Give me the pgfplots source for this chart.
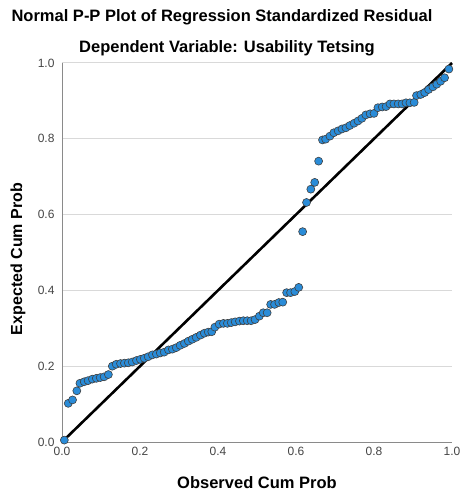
\documentclass[border=0pt]{standalone}
\usepackage{fontspec}
\setmainfont{Liberation Sans}
\usepackage{pgfplots}
\pgfplotsset{compat=1.18}
\definecolor{ppblue}{HTML}{2A8CD8}
\definecolor{axisgray}{HTML}{8A8A8A}
\definecolor{gridgray}{HTML}{D9D9D9}
\definecolor{ticktext}{HTML}{444444}

\begin{document}
\begin{tikzpicture}
\path[use as bounding box] (0,0) rectangle (460bp,493bp);
\begin{axis}[
  at={(62bp,51bp)}, anchor=south west,
  scale only axis,
  width=390bp, height=379bp,
  xmin=0, xmax=1, ymin=0, ymax=1,
  axis x line*=bottom, axis y line*=left,
  axis line style={axisgray, line width=1pt, -},
  xtick={0,0.2,0.4,0.6,0.8,1.0},
  ytick={0,0.2,0.4,0.6,0.8,1.0},
  major tick length=0pt,
  ymajorgrids,
  grid style={gridgray, line width=1pt},
  tick label style={font=\fontsize{12bp}{14bp}\selectfont, text=ticktext},
  /pgf/number format/assume math mode=true,
  xticklabel={\pgfmathprintnumber[fixed,fixed zerofill,precision=1]{\tick}},
  yticklabel={\pgfmathprintnumber[fixed,fixed zerofill,precision=1]{\tick}},
  xticklabel style={yshift=-2bp},
  yticklabel style={xshift=-4bp},
  clip=false,
]
\addplot[black, line width=2.6pt] coordinates {(0,0) (1,1)};
\addplot[only marks, mark=*, mark size=4bp,
  mark options={fill=ppblue, draw=black!75, line width=0.6pt}]
  table {
x y
0.006 0.005
0.016 0.102
0.027 0.111
0.038 0.135
0.046 0.155
0.057 0.159
0.067 0.162
0.078 0.166
0.088 0.168
0.098 0.170
0.108 0.172
0.119 0.178
0.129 0.200
0.139 0.205
0.150 0.207
0.160 0.208
0.170 0.209
0.180 0.211
0.191 0.215
0.201 0.218
0.211 0.221
0.221 0.225
0.232 0.230
0.242 0.232
0.252 0.235
0.262 0.237
0.273 0.243
0.283 0.245
0.293 0.249
0.303 0.255
0.314 0.260
0.324 0.266
0.334 0.271
0.344 0.276
0.355 0.282
0.365 0.287
0.375 0.290
0.384 0.291
0.392 0.303
0.403 0.311
0.414 0.313
0.424 0.313
0.434 0.315
0.444 0.317
0.455 0.319
0.465 0.320
0.475 0.320
0.485 0.320
0.495 0.323
0.506 0.332
0.516 0.341
0.526 0.341
0.535 0.363
0.545 0.363
0.556 0.368
0.566 0.369
0.576 0.394
0.586 0.394
0.597 0.397
0.607 0.408
0.617 0.555
0.627 0.632
0.638 0.667
0.648 0.685
0.658 0.741
0.668 0.797
0.676 0.799
0.687 0.807
0.697 0.816
0.708 0.821
0.718 0.826
0.728 0.829
0.738 0.835
0.749 0.841
0.759 0.847
0.769 0.854
0.779 0.863
0.790 0.866
0.800 0.867
0.810 0.882
0.821 0.884
0.831 0.885
0.841 0.892
0.851 0.892
0.862 0.892
0.872 0.892
0.882 0.895
0.892 0.895
0.903 0.896
0.909 0.914
0.920 0.917
0.930 0.922
0.940 0.930
0.951 0.937
0.961 0.944
0.971 0.952
0.981 0.961
0.992 0.984
};
\end{axis}
% titles and axis labels, placed in page coordinates
\node[font=\bfseries\fontsize{16.5bp}{19bp}\selectfont] at (222bp,476bp) {Normal P-P Plot of Regression Standardized Residual};
\node[font=\bfseries\fontsize{16.5bp}{19bp}\selectfont] at (227bp,445bp) {Dependent Variable: Usability Tetsing};
\node[font=\bfseries\fontsize{16.5bp}{19bp}\selectfont] at (257bp,10bp) {Observed Cum Prob};
\node[font=\bfseries\fontsize{16bp}{19bp}\selectfont, rotate=90] at (18bp,234bp) {Expected Cum Prob};
\end{tikzpicture}
\end{document}
